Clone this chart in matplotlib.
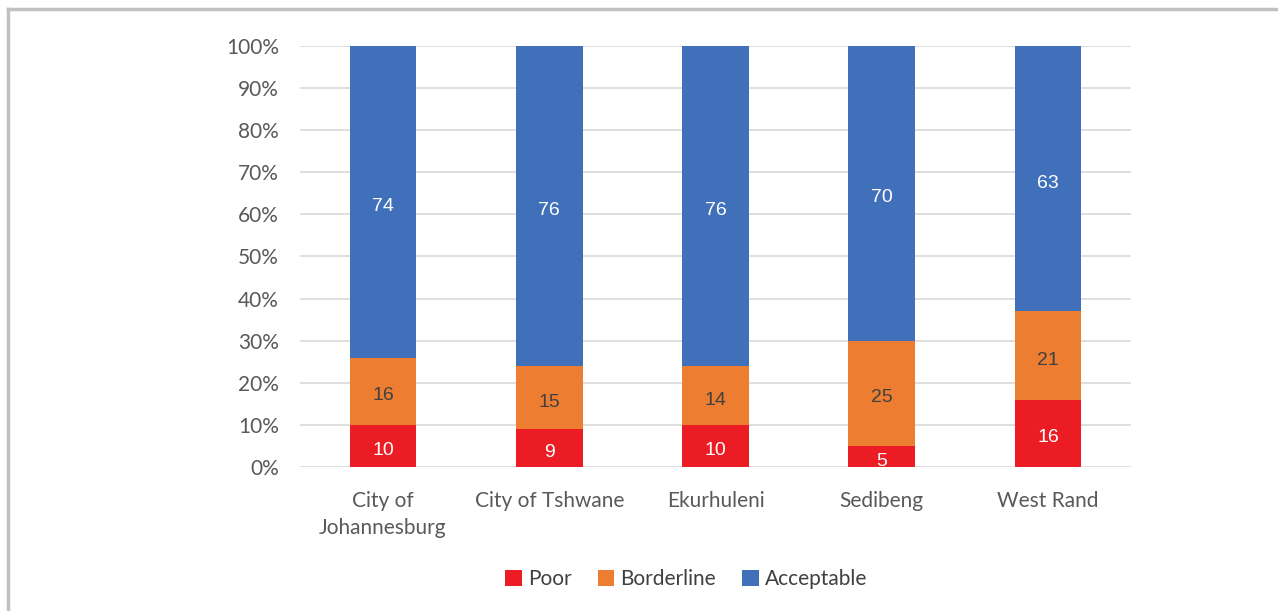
import matplotlib.pyplot as plt
from matplotlib.lines import Line2D
from matplotlib.ticker import PercentFormatter

regions = ["City of\nJohannesburg", "City of Tshwane", "Ekurhuleni", "Sedibeng", "West Rand"]
poor = [10, 9, 10, 5, 16]
borderline = [16, 15, 14, 25, 21]
acceptable = [74, 76, 76, 70, 63]

series = [
    ("Poor", poor, "#EC1C24", "white"),
    ("Borderline", borderline, "#ED7D31", "#404040"),
    ("Acceptable", acceptable, "#4170BA", "white"),
]

plt.rcParams["font.family"] = ["Lato", "DejaVu Sans"]

fig = plt.figure(figsize=(12.78, 6.11), dpi=100)
ax = fig.add_axes([0.2347, 0.2357, 0.6503, 0.689])

x = range(len(regions))
bottom = [0] * len(regions)
for name, vals, color, txt in series:
    bars = ax.bar(x, vals, width=0.4, bottom=bottom, color=color, label=name, zorder=2)
    for b, v in zip(bars, vals):
        # labels sit a touch below the segment middle
        ax.text(b.get_x() + b.get_width() / 2, b.get_y() + b.get_height() / 2 - 1.1, str(v),
                ha="center", va="center", color=txt, fontsize=14,
                family="Liberation Sans", zorder=3)
    bottom = [a + v for a, v in zip(bottom, vals)]

ax.set_xlim(-0.5, len(regions) - 0.5)
ax.set_ylim(0, 100)
ax.set_yticks(range(0, 101, 10))
ax.yaxis.set_major_formatter(PercentFormatter(decimals=0))
ax.set_xticks(list(x))
ax.set_xticklabels(regions, linespacing=1.45)
ax.tick_params(length=0, labelsize=15, colors="#595959")
ax.tick_params(axis="y", pad=15)
ax.tick_params(axis="x", pad=17)
ax.grid(axis="y", color="#D9D9D9", linewidth=1.2, zorder=0)
for s in ax.spines.values():
    s.set_visible(False)

handles, labels = ax.get_legend_handles_labels()
fig.legend(handles, labels, loc="center", bbox_to_anchor=(0.537, 0.052), ncol=3,
           frameon=False, fontsize=15, handlelength=0.8, handleheight=0.8,
           handletextpad=0.3, columnspacing=1.25, labelcolor="#404040")

# grey frame along the top and left edge
fig.add_artist(Line2D([8 / 1278, 8 / 1278], [0, 1 - 9 / 611], transform=fig.transFigure,
                      color="#C0C0C0", linewidth=2.5))
fig.add_artist(Line2D([8 / 1278, 1], [1 - 9 / 611, 1 - 9 / 611], transform=fig.transFigure,
                      color="#C0C0C0", linewidth=2.5))

fig.savefig("out.png", dpi=100)
